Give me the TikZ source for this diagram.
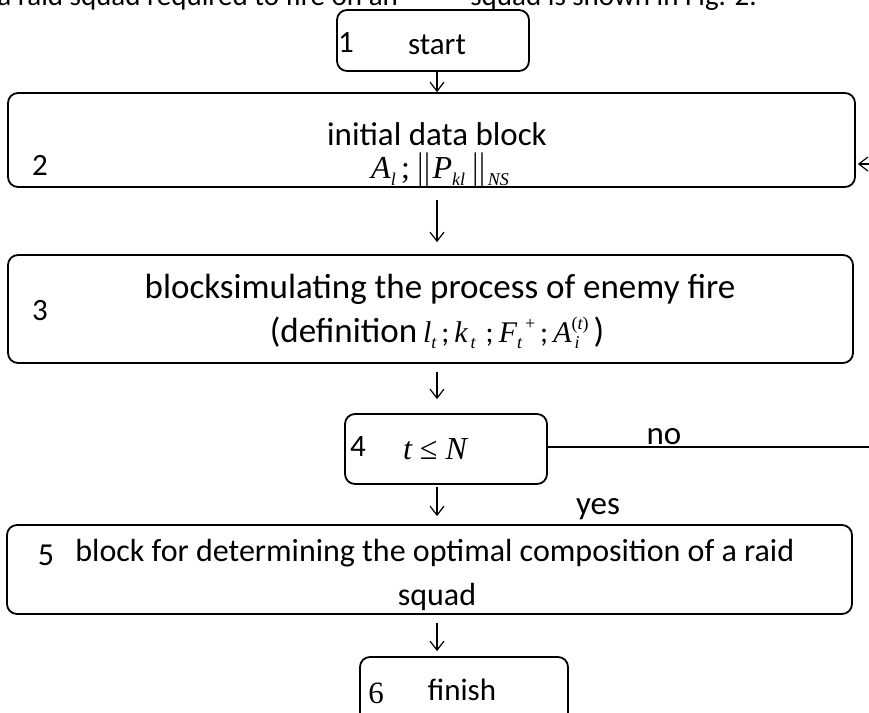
\documentclass[tikz,border=0pt]{standalone}
\usepackage{fontspec}
\setmainfont{Carlito}
\newfontfamily\mathf{Liberation Serif}
\usetikzlibrary{arrows.meta}
\newcommand\mi[1]{{\mathf\itshape #1}}
\newcommand\subx[1]{\raisebox{-0.45ex}{\fontsize{9}{9}\selectfont\mathf\itshape #1}}
\newcommand\supx[1]{\raisebox{0.9ex}{\fontsize{9}{9}\selectfont\mathf #1}}
\begin{document}
\begin{tikzpicture}[x=0.5pt,y=-0.5pt,
  box/.style={draw, line width=0.9pt, rounded corners=5pt, inner sep=0pt},
  arr/.style={-{Straight Barb[length=4.5pt,width=7pt]}, line width=0.6pt},
  lbl/.style={inner sep=0pt, font=\fontsize{15.5}{18}\selectfont},
  big/.style={inner sep=0pt, font=\fontsize{17.5}{20}\selectfont},
  mth/.style={inner sep=0pt, font=\fontsize{16}{18}\selectfont\mathf}]
\useasboundingbox (0,0) rectangle (869,713);
\clip (0,0) rectangle (869,713);
% cut-off caption line at the top
\node[lbl, font=\fontsize{14.5}{18}\selectfont, anchor=base west] (top1) at (-3,5) {a raid squad required to fire on an};
\node[lbl, font=\fontsize{14.5}{18}\selectfont, anchor=base west] (top2) at (470,5) {squad is shown in Fig. 2.};
% boxes
\node[box, minimum width=96pt, minimum height=30.5pt] (b1) at (433,40.5) {};
\node[box, minimum width=423.5pt, minimum height=47pt] (b2) at (431.5,140) {};
\node[box, minimum width=422.5pt, minimum height=54pt] (b3) at (430.5,309) {};
\node[box, minimum width=101pt, minimum height=35pt] (b4) at (446,449) {};
\node[box, minimum width=422.5pt, minimum height=44.5pt] (b5) at (429.5,569.5) {};
\node[box, minimum width=104pt, minimum height=39pt] (b6) at (464,696) {};
% texts
\node[lbl] (n1) at (346,43) {1};
\node[lbl] (t1) at (437,45) {start};
\node[lbl] (n2) at (40,165) {2};
\node[big, font=\fontsize{16.5}{20}\selectfont] (t2a) at (437,134) {initial data block};
\node[mth] (t2b) at (440,170) {\mi{A}\subx{l}\,;\,$\big\|$\mi{P}\subx{kl}\,$\big\|$\subx{NS}};
\node[lbl] (n3) at (40,311) {3};
\node[big] (t3a) at (440,289) {blocksimulating the process of enemy fire};
\node[big] (t3b) at (437,333) {(definition\,{\fontsize{15}{18}\selectfont\mi{l}\subx{t}\,;\,\mi{k}\subx{\,t}\,\,;\,\mi{F}\subx{t}\supx{\,+}\,;\,\mi{A}\rlap{\subx{\,i}}\supx{(\mi{t})}\,})};
\node[lbl] (n4) at (358,447) {4};
\node[mth] (t4) at (435,449) {\mi{t} ≤ \mi{N}};
\node[big, font=\fontsize{16.5}{20}\selectfont] (no) at (664,437) {no};
\node[big, font=\fontsize{16.5}{20}\selectfont] (yes) at (598,509) {yes};
\node[lbl, font=\fontsize{16}{18}\selectfont] (n5) at (46,555) {5};
\node[lbl, font=\fontsize{16}{18}\selectfont, anchor=west] (t5a) at (75,553) {block for determining the optimal composition of a raid};
\node[lbl, font=\fontsize{16}{18}\selectfont] (t5b) at (437,597) {squad};
\node[lbl, font=\fontsize{15.5}{18}\selectfont\mathf] (n6) at (376,693) {6};
\node[lbl] (t6) at (462,690) {finish};
% connectors
\coordinate (ax) at (437,0);
\coordinate (noend) at (870,447);
\coordinate (loopstart) at (870,164);
\draw[arr] (b1.south -| ax) -- (b2.north -| ax);
\draw[arr, shorten <=6pt, shorten >=6pt] (b2.south -| ax) -- (b3.north -| ax);
\draw[arr, shorten <=4pt, shorten >=7pt] (b3.south -| ax) -- (b4.north -| ax);
\draw[arr, shorten <=1pt, shorten >=4pt] (b4.south -| ax) -- (b5.north -| ax);
\draw[arr, shorten <=4pt, shorten >=2.5pt] (b5.south -| ax) -- (b6.north -| ax);
\draw[line width=0.8pt] (b4.east |- noend) -- (noend);
\draw[arr] (loopstart) -- ([xshift=1pt]b2.east |- loopstart);
\end{tikzpicture}
\end{document}
